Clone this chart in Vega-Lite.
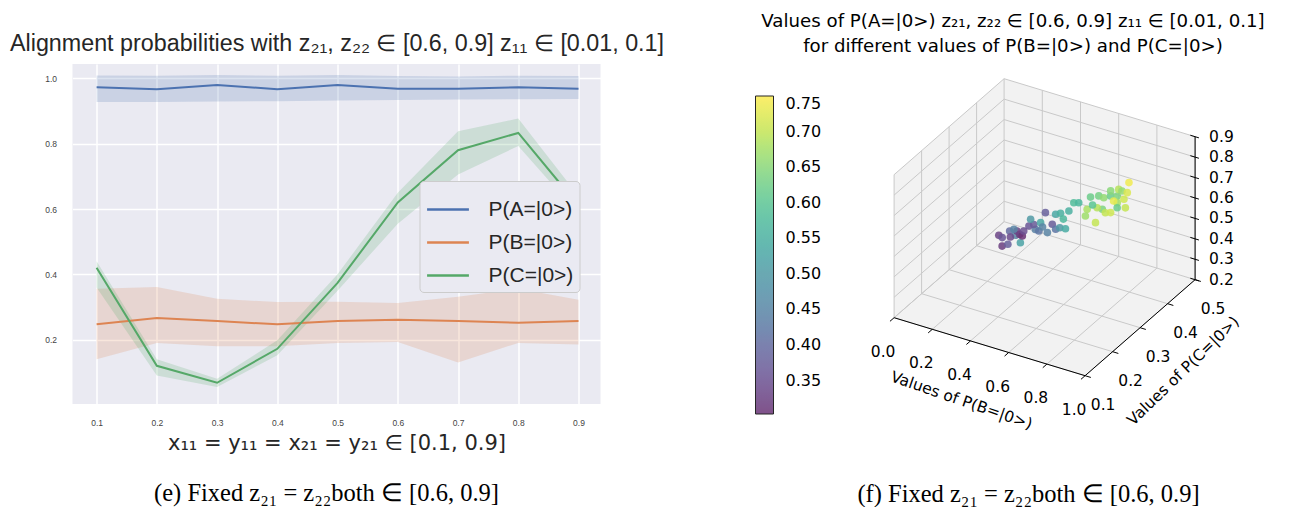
{
  "$schema": "https://vega.github.io/schema/vega-lite/v6.json",
  "background": "white",
  "padding": {"left": 8.5, "top": 11, "right": 0, "bottom": 0},
  "bounds": "flush",
  "spacing": 260,
  "config": {
    "view": {"stroke": null},
    "font": "Liberation Sans"
  },
  "resolve": {"scale": {"color": "independent", "fill": "independent"}, "legend": {"color": "independent", "fill": "independent"}},
  "datasets": {
    "probs": [
      {"x": 0.1, "s": "P(A=|0>)", "m": 0.973, "lo": 0.928, "hi": 1.009},
      {"x": 0.2, "s": "P(A=|0>)", "m": 0.967, "lo": 0.928, "hi": 1.008},
      {"x": 0.3, "s": "P(A=|0>)", "m": 0.980, "lo": 0.929, "hi": 1.010},
      {"x": 0.4, "s": "P(A=|0>)", "m": 0.967, "lo": 0.930, "hi": 1.008},
      {"x": 0.5, "s": "P(A=|0>)", "m": 0.980, "lo": 0.932, "hi": 1.010},
      {"x": 0.6, "s": "P(A=|0>)", "m": 0.968, "lo": 0.934, "hi": 1.007},
      {"x": 0.7, "s": "P(A=|0>)", "m": 0.968, "lo": 0.935, "hi": 1.006},
      {"x": 0.8, "s": "P(A=|0>)", "m": 0.973, "lo": 0.936, "hi": 1.008},
      {"x": 0.9, "s": "P(A=|0>)", "m": 0.968, "lo": 0.937, "hi": 1.007},
      {"x": 0.1, "s": "P(B=|0>)", "m": 0.247, "lo": 0.140, "hi": 0.356},
      {"x": 0.2, "s": "P(B=|0>)", "m": 0.266, "lo": 0.190, "hi": 0.361},
      {"x": 0.3, "s": "P(B=|0>)", "m": 0.257, "lo": 0.180, "hi": 0.325},
      {"x": 0.4, "s": "P(B=|0>)", "m": 0.247, "lo": 0.180, "hi": 0.315},
      {"x": 0.5, "s": "P(B=|0>)", "m": 0.257, "lo": 0.190, "hi": 0.316},
      {"x": 0.6, "s": "P(B=|0>)", "m": 0.261, "lo": 0.193, "hi": 0.312},
      {"x": 0.7, "s": "P(B=|0>)", "m": 0.257, "lo": 0.130, "hi": 0.331},
      {"x": 0.8, "s": "P(B=|0>)", "m": 0.252, "lo": 0.190, "hi": 0.356},
      {"x": 0.9, "s": "P(B=|0>)", "m": 0.257, "lo": 0.185, "hi": 0.322},
      {"x": 0.1, "s": "P(C=|0>)", "m": 0.420, "lo": 0.360, "hi": 0.440},
      {"x": 0.2, "s": "P(C=|0>)", "m": 0.120, "lo": 0.090, "hi": 0.140},
      {"x": 0.3, "s": "P(C=|0>)", "m": 0.068, "lo": 0.055, "hi": 0.080},
      {"x": 0.4, "s": "P(C=|0>)", "m": 0.172, "lo": 0.152, "hi": 0.198},
      {"x": 0.5, "s": "P(C=|0>)", "m": 0.374, "lo": 0.350, "hi": 0.400},
      {"x": 0.6, "s": "P(C=|0>)", "m": 0.620, "lo": 0.555, "hi": 0.650},
      {"x": 0.7, "s": "P(C=|0>)", "m": 0.780, "lo": 0.706, "hi": 0.838},
      {"x": 0.8, "s": "P(C=|0>)", "m": 0.833, "lo": 0.793, "hi": 0.877},
      {"x": 0.9, "s": "P(C=|0>)", "m": 0.610, "lo": 0.585, "hi": 0.640}
    ],
    "panes": [
      {"pane": "left", "ord": 1, "b": 0, "c": 0.1, "z": 0.2},
      {"pane": "left", "ord": 2, "b": 0, "c": 0.5, "z": 0.2},
      {"pane": "left", "ord": 3, "b": 0, "c": 0.5, "z": 0.9},
      {"pane": "left", "ord": 4, "b": 0, "c": 0.1, "z": 0.9},
      {"pane": "back", "ord": 1, "b": 0, "c": 0.5, "z": 0.2},
      {"pane": "back", "ord": 2, "b": 1, "c": 0.5, "z": 0.2},
      {"pane": "back", "ord": 3, "b": 1, "c": 0.5, "z": 0.9},
      {"pane": "back", "ord": 4, "b": 0, "c": 0.5, "z": 0.9},
      {"pane": "floor", "ord": 1, "b": 0, "c": 0.1, "z": 0.2},
      {"pane": "floor", "ord": 2, "b": 1, "c": 0.1, "z": 0.2},
      {"pane": "floor", "ord": 3, "b": 1, "c": 0.5, "z": 0.2},
      {"pane": "floor", "ord": 4, "b": 0, "c": 0.5, "z": 0.2}
    ],
    "grid": [
      {"b1": 0, "c1": 0.1, "z1": 0.2, "b2": 0, "c2": 0.5, "z2": 0.2},
      {"b1": 0.2, "c1": 0.1, "z1": 0.2, "b2": 0.2, "c2": 0.5, "z2": 0.2},
      {"b1": 0.4, "c1": 0.1, "z1": 0.2, "b2": 0.4, "c2": 0.5, "z2": 0.2},
      {"b1": 0.6, "c1": 0.1, "z1": 0.2, "b2": 0.6, "c2": 0.5, "z2": 0.2},
      {"b1": 0.8, "c1": 0.1, "z1": 0.2, "b2": 0.8, "c2": 0.5, "z2": 0.2},
      {"b1": 1, "c1": 0.1, "z1": 0.2, "b2": 1, "c2": 0.5, "z2": 0.2},
      {"b1": 0, "c1": 0.1, "z1": 0.2, "b2": 1, "c2": 0.1, "z2": 0.2},
      {"b1": 0, "c1": 0.2, "z1": 0.2, "b2": 1, "c2": 0.2, "z2": 0.2},
      {"b1": 0, "c1": 0.3, "z1": 0.2, "b2": 1, "c2": 0.3, "z2": 0.2},
      {"b1": 0, "c1": 0.4, "z1": 0.2, "b2": 1, "c2": 0.4, "z2": 0.2},
      {"b1": 0, "c1": 0.5, "z1": 0.2, "b2": 1, "c2": 0.5, "z2": 0.2},
      {"b1": 0, "c1": 0.1, "z1": 0.2, "b2": 0, "c2": 0.1, "z2": 0.9},
      {"b1": 0, "c1": 0.2, "z1": 0.2, "b2": 0, "c2": 0.2, "z2": 0.9},
      {"b1": 0, "c1": 0.3, "z1": 0.2, "b2": 0, "c2": 0.3, "z2": 0.9},
      {"b1": 0, "c1": 0.4, "z1": 0.2, "b2": 0, "c2": 0.4, "z2": 0.9},
      {"b1": 0, "c1": 0.5, "z1": 0.2, "b2": 0, "c2": 0.5, "z2": 0.9},
      {"b1": 0, "c1": 0.1, "z1": 0.2, "b2": 0, "c2": 0.5, "z2": 0.2},
      {"b1": 0, "c1": 0.1, "z1": 0.3, "b2": 0, "c2": 0.5, "z2": 0.3},
      {"b1": 0, "c1": 0.1, "z1": 0.4, "b2": 0, "c2": 0.5, "z2": 0.4},
      {"b1": 0, "c1": 0.1, "z1": 0.5, "b2": 0, "c2": 0.5, "z2": 0.5},
      {"b1": 0, "c1": 0.1, "z1": 0.6, "b2": 0, "c2": 0.5, "z2": 0.6},
      {"b1": 0, "c1": 0.1, "z1": 0.7, "b2": 0, "c2": 0.5, "z2": 0.7},
      {"b1": 0, "c1": 0.1, "z1": 0.8, "b2": 0, "c2": 0.5, "z2": 0.8},
      {"b1": 0, "c1": 0.1, "z1": 0.9, "b2": 0, "c2": 0.5, "z2": 0.9},
      {"b1": 0.2, "c1": 0.5, "z1": 0.2, "b2": 0.2, "c2": 0.5, "z2": 0.9},
      {"b1": 0.4, "c1": 0.5, "z1": 0.2, "b2": 0.4, "c2": 0.5, "z2": 0.9},
      {"b1": 0.6, "c1": 0.5, "z1": 0.2, "b2": 0.6, "c2": 0.5, "z2": 0.9},
      {"b1": 0.8, "c1": 0.5, "z1": 0.2, "b2": 0.8, "c2": 0.5, "z2": 0.9},
      {"b1": 1, "c1": 0.5, "z1": 0.2, "b2": 1, "c2": 0.5, "z2": 0.9},
      {"b1": 0, "c1": 0.5, "z1": 0.3, "b2": 1, "c2": 0.5, "z2": 0.3},
      {"b1": 0, "c1": 0.5, "z1": 0.4, "b2": 1, "c2": 0.5, "z2": 0.4},
      {"b1": 0, "c1": 0.5, "z1": 0.5, "b2": 1, "c2": 0.5, "z2": 0.5},
      {"b1": 0, "c1": 0.5, "z1": 0.6, "b2": 1, "c2": 0.5, "z2": 0.6},
      {"b1": 0, "c1": 0.5, "z1": 0.7, "b2": 1, "c2": 0.5, "z2": 0.7},
      {"b1": 0, "c1": 0.5, "z1": 0.8, "b2": 1, "c2": 0.5, "z2": 0.8},
      {"b1": 0, "c1": 0.5, "z1": 0.9, "b2": 1, "c2": 0.5, "z2": 0.9}
    ],
    "axes3d": [
      {"b1": 0, "c1": 0.1, "z1": 0.2, "b2": 1, "c2": 0.1, "z2": 0.2},
      {"b1": 1, "c1": 0.1, "z1": 0.2, "b2": 1, "c2": 0.5, "z2": 0.2},
      {"b1": 1, "c1": 0.5, "z1": 0.2, "b2": 1, "c2": 0.5, "z2": 0.9},
      {"b1": 0, "c1": 0.1, "z1": 0.2, "b2": 0, "c2": 0.085, "z2": 0.2},
      {"b1": 0.2, "c1": 0.1, "z1": 0.2, "b2": 0.2, "c2": 0.085, "z2": 0.2},
      {"b1": 0.4, "c1": 0.1, "z1": 0.2, "b2": 0.4, "c2": 0.085, "z2": 0.2},
      {"b1": 0.6, "c1": 0.1, "z1": 0.2, "b2": 0.6, "c2": 0.085, "z2": 0.2},
      {"b1": 0.8, "c1": 0.1, "z1": 0.2, "b2": 0.8, "c2": 0.085, "z2": 0.2},
      {"b1": 1, "c1": 0.1, "z1": 0.2, "b2": 1, "c2": 0.085, "z2": 0.2},
      {"b1": 1, "c1": 0.1, "z1": 0.2, "b2": 1.03, "c2": 0.1, "z2": 0.2},
      {"b1": 1, "c1": 0.2, "z1": 0.2, "b2": 1.03, "c2": 0.2, "z2": 0.2},
      {"b1": 1, "c1": 0.3, "z1": 0.2, "b2": 1.03, "c2": 0.3, "z2": 0.2},
      {"b1": 1, "c1": 0.4, "z1": 0.2, "b2": 1.03, "c2": 0.4, "z2": 0.2},
      {"b1": 1, "c1": 0.5, "z1": 0.2, "b2": 1.03, "c2": 0.5, "z2": 0.2},
      {"b1": 0.975, "c1": 0.5, "z1": 0.2, "b2": 1.02, "c2": 0.5, "z2": 0.2},
      {"b1": 0.975, "c1": 0.5, "z1": 0.3, "b2": 1.02, "c2": 0.5, "z2": 0.3},
      {"b1": 0.975, "c1": 0.5, "z1": 0.4, "b2": 1.02, "c2": 0.5, "z2": 0.4},
      {"b1": 0.975, "c1": 0.5, "z1": 0.5, "b2": 1.02, "c2": 0.5, "z2": 0.5},
      {"b1": 0.975, "c1": 0.5, "z1": 0.6, "b2": 1.02, "c2": 0.5, "z2": 0.6},
      {"b1": 0.975, "c1": 0.5, "z1": 0.7, "b2": 1.02, "c2": 0.5, "z2": 0.7},
      {"b1": 0.975, "c1": 0.5, "z1": 0.8, "b2": 1.02, "c2": 0.5, "z2": 0.8},
      {"b1": 0.975, "c1": 0.5, "z1": 0.9, "b2": 1.02, "c2": 0.5, "z2": 0.9}
    ],
    "ticklabels": [
      {"axis": "B", "b": 0, "c": 0.1, "z": 0.2, "label": "0.0"},
      {"axis": "B", "b": 0.2, "c": 0.1, "z": 0.2, "label": "0.2"},
      {"axis": "B", "b": 0.4, "c": 0.1, "z": 0.2, "label": "0.4"},
      {"axis": "B", "b": 0.6, "c": 0.1, "z": 0.2, "label": "0.6"},
      {"axis": "B", "b": 0.8, "c": 0.1, "z": 0.2, "label": "0.8"},
      {"axis": "B", "b": 1, "c": 0.1, "z": 0.2, "label": "1.0"},
      {"axis": "C", "b": 1, "c": 0.1, "z": 0.2, "label": "0.1"},
      {"axis": "C", "b": 1, "c": 0.2, "z": 0.2, "label": "0.2"},
      {"axis": "C", "b": 1, "c": 0.3, "z": 0.2, "label": "0.3"},
      {"axis": "C", "b": 1, "c": 0.4, "z": 0.2, "label": "0.4"},
      {"axis": "C", "b": 1, "c": 0.5, "z": 0.2, "label": "0.5"},
      {"axis": "Z", "b": 1, "c": 0.5, "z": 0.2, "label": "0.2"},
      {"axis": "Z", "b": 1, "c": 0.5, "z": 0.3, "label": "0.3"},
      {"axis": "Z", "b": 1, "c": 0.5, "z": 0.4, "label": "0.4"},
      {"axis": "Z", "b": 1, "c": 0.5, "z": 0.5, "label": "0.5"},
      {"axis": "Z", "b": 1, "c": 0.5, "z": 0.6, "label": "0.6"},
      {"axis": "Z", "b": 1, "c": 0.5, "z": 0.7, "label": "0.7"},
      {"axis": "Z", "b": 1, "c": 0.5, "z": 0.8, "label": "0.8"},
      {"axis": "Z", "b": 1, "c": 0.5, "z": 0.9, "label": "0.9"}
    ],
    "points": [
      {"b": 0.210, "c": 0.347, "a": 0.32},
      {"b": 0.279, "c": 0.320, "a": 0.38},
      {"b": 0.448, "c": 0.248, "a": 0.52},
      {"b": 0.158, "c": 0.371, "a": 0.33},
      {"b": 0.209, "c": 0.348, "a": 0.36},
      {"b": 0.245, "c": 0.350, "a": 0.40},
      {"b": 0.332, "c": 0.311, "a": 0.45},
      {"b": 0.217, "c": 0.406, "a": 0.31},
      {"b": 0.210, "c": 0.401, "a": 0.33},
      {"b": 0.225, "c": 0.410, "a": 0.30},
      {"b": 0.299, "c": 0.328, "a": 0.45},
      {"b": 0.254, "c": 0.395, "a": 0.35},
      {"b": 0.261, "c": 0.409, "a": 0.36},
      {"b": 0.374, "c": 0.354, "a": 0.44},
      {"b": 0.282, "c": 0.412, "a": 0.37},
      {"b": 0.365, "c": 0.343, "a": 0.50},
      {"b": 0.376, "c": 0.365, "a": 0.42},
      {"b": 0.446, "c": 0.323, "a": 0.53},
      {"b": 0.444, "c": 0.349, "a": 0.45},
      {"b": 0.353, "c": 0.430, "a": 0.37},
      {"b": 0.434, "c": 0.386, "a": 0.42},
      {"b": 0.516, "c": 0.344, "a": 0.50},
      {"b": 0.579, "c": 0.321, "a": 0.54},
      {"b": 0.284, "c": 0.453, "a": 0.38},
      {"b": 0.467, "c": 0.363, "a": 0.53},
      {"b": 0.500, "c": 0.358, "a": 0.55},
      {"b": 0.522, "c": 0.373, "a": 0.55},
      {"b": 0.532, "c": 0.384, "a": 0.58},
      {"b": 0.542, "c": 0.395, "a": 0.57},
      {"b": 0.704, "c": 0.313, "a": 0.68},
      {"b": 0.718, "c": 0.297, "a": 0.67},
      {"b": 0.814, "c": 0.267, "a": 0.70},
      {"b": 0.644, "c": 0.397, "a": 0.63},
      {"b": 0.726, "c": 0.353, "a": 0.64},
      {"b": 0.745, "c": 0.321, "a": 0.69},
      {"b": 0.808, "c": 0.307, "a": 0.70},
      {"b": 0.837, "c": 0.306, "a": 0.71},
      {"b": 0.699, "c": 0.377, "a": 0.66},
      {"b": 0.681, "c": 0.414, "a": 0.62},
      {"b": 0.725, "c": 0.408, "a": 0.64},
      {"b": 0.791, "c": 0.362, "a": 0.68},
      {"b": 0.829, "c": 0.360, "a": 0.71},
      {"b": 0.864, "c": 0.341, "a": 0.70},
      {"b": 0.759, "c": 0.384, "a": 0.62},
      {"b": 0.802, "c": 0.397, "a": 0.74},
      {"b": 0.747, "c": 0.398, "a": 0.69},
      {"b": 0.686, "c": 0.411, "a": 0.65},
      {"b": 0.740, "c": 0.415, "a": 0.66},
      {"b": 0.822, "c": 0.377, "a": 0.72},
      {"b": 0.220, "c": 0.370, "a": 0.34},
      {"b": 0.400, "c": 0.362, "a": 0.45},
      {"b": 0.633, "c": 0.382, "a": 0.60},
      {"b": 0.815, "c": 0.332, "a": 0.73},
      {"b": 0.555, "c": 0.330, "a": 0.57},
      {"b": 0.608, "c": 0.392, "a": 0.62}
    ],
    "axtitles": [
      {"axis": "B", "b": 0.5, "c": 0.1, "z": 0.2, "label": "Values of P(B=|0>)"},
      {"axis": "C", "b": 1, "c": 0.3, "z": 0.2, "label": "Values of P(C=|0>)"}
    ]
  },
  "hconcat": [
    {
      "title": {"text": "(e) Fixed z₂₁ = z₂₂both ∈ [0.6, 0.9]", "orient": "bottom", "anchor": "middle", "font": "Liberation Serif", "fontSize": 24.5, "fontWeight": "normal", "color": "black", "offset": 28, "dx": -10},
      "width": 528,
      "height": 340,
      "view": {"fill": "#EAEAF2", "stroke": null},
      "data": {"name": "probs"},
      "resolve": {"axis": {"x": "independent"}},
      "layer": [
        {
          "mark": {"type": "area", "opacity": 0.2},
          "encoding": {
            "x": {"field": "x", "type": "quantitative", "scale": {"domain": [0.06, 0.9365], "nice": false, "zero": false},
              "axis": {"orient": "bottom", "values": [0.1, 0.2, 0.3, 0.4, 0.5, 0.6, 0.7, 0.8, 0.9], "format": ".1f", "labelFontSize": 8.5, "labelColor": "#444444", "labelFont": "Liberation Sans", "grid": true, "gridColor": "white", "gridWidth": 1.5, "domain": false, "ticks": false, "labelPadding": 14,
                "title": "x₁₁ = y₁₁ = x₂₁ = y₂₁ ∈ [0.1, 0.9]", "titleFont": "DejaVu Sans", "titleFontSize": 21, "titleFontWeight": "normal", "titleColor": "#262626", "titlePadding": 6}},
            "y": {"field": "lo", "type": "quantitative", "scale": {"domain": [0.003, 1.044], "nice": false, "zero": false},
              "axis": {"values": [0.2, 0.4, 0.6, 0.8, 1.0], "format": ".1f", "labelFontSize": 8.5, "labelColor": "#444444", "labelFont": "Liberation Sans", "grid": true, "gridColor": "white", "gridWidth": 1.5, "domain": false, "ticks": false, "labelPadding": 16, "title": null}},
            "y2": {"field": "hi"},
            "fill": {"field": "s", "type": "nominal", "scale": {"domain": ["P(A=|0>)", "P(B=|0>)", "P(C=|0>)"], "range": ["#4C72B0", "#DD8452", "#55A868"]}, "legend": null},
            "detail": {"field": "s"}
          }
        },
        {
          "mark": {"type": "line", "strokeWidth": 2},
          "encoding": {
            "x": {"field": "x", "type": "quantitative",
              "axis": {"orient": "top", "labels": false, "ticks": false, "domain": false, "grid": false,
                "title": "Alignment probabilities with z₂₁, z₂₂ ∈ [0.6, 0.9] z₁₁ ∈ [0.01, 0.1]", "titleFont": "Liberation Sans", "titleFontSize": 23.3, "titleFontWeight": "normal", "titleColor": "#262626", "titlePadding": 9}},
            "y": {"field": "m", "type": "quantitative"},
            "stroke": {"field": "s", "type": "nominal", "scale": {"domain": ["P(A=|0>)", "P(B=|0>)", "P(C=|0>)"], "range": ["#4C72B0", "#DD8452", "#55A868"]},
              "legend": {"orient": "none", "legendX": 347, "legendY": 117, "title": null, "symbolType": "stroke", "symbolSize": 1750, "symbolStrokeWidth": 2.5, "labelFontSize": 21, "labelFont": "Liberation Sans", "labelColor": "#262626", "fillColor": "#EAEAF2", "strokeColor": "#cccccc", "cornerRadius": 4, "padding": 6, "rowPadding": -21, "labelOffset": 18}}
          }
        }
      ]
    },
    {
      "title": {"text": "(f) Fixed z₂₁ = z₂₂both ∈ [0.6, 0.9]", "orient": "bottom", "anchor": "middle", "font": "Liberation Serif", "fontSize": 24.5, "fontWeight": "normal", "color": "black", "offset": 42, "dx": -27},
      "width": 390,
      "height": 377,
      "resolve": {"axis": {"x": "independent"}},
      "layer": [
        {
          "data": {"name": "panes"},
          "transform": [
            {"calculate": "191*datum.b + 275*datum.c", "as": "u"},
            {"calculate": "204.3*datum.z + 240*datum.c - 58*datum.b", "as": "v"}
          ],
          "mark": {"type": "line", "fill": "#f2f2f2", "strokeOpacity": 0, "strokeWidth": 0},
          "encoding": {
            "x": {"field": "u", "type": "quantitative", "scale": {"domain": [-6.1, 383.9], "nice": false, "zero": false},
              "axis": {"orient": "top", "labels": false, "ticks": false, "domain": false, "grid": false,
                "title": ["Values of P(A=|0>) z₂₁, z₂₂ ∈ [0.6, 0.9] z₁₁ ∈ [0.01, 0.1]", "for different values of P(B=|0>) and P(C=|0>)"],
                "titleFont": "DejaVu Sans", "titleFontSize": 18.2, "titleFontWeight": "normal", "titleColor": "black", "titleLineHeight": 25, "titlePadding": 9, "titleX": 152}},
            "y": {"field": "v", "type": "quantitative", "scale": {"domain": [-58.44, 318.56], "nice": false, "zero": false}, "axis": null},
            "detail": {"field": "pane"},
            "order": {"field": "ord", "type": "quantitative"}
          }
        },
        {
          "data": {"name": "grid"},
          "transform": [
            {"calculate": "191*datum.b1 + 275*datum.c1", "as": "u1"},
            {"calculate": "204.3*datum.z1 + 240*datum.c1 - 58*datum.b1", "as": "v1"},
            {"calculate": "191*datum.b2 + 275*datum.c2", "as": "u2"},
            {"calculate": "204.3*datum.z2 + 240*datum.c2 - 58*datum.b2", "as": "v2"}
          ],
          "mark": {"type": "rule", "color": "#c9c9c9", "strokeWidth": 1},
          "encoding": {
            "x": {"field": "u1", "type": "quantitative", "axis": null},
            "y": {"field": "v1", "type": "quantitative", "axis": null},
            "x2": {"field": "u2"},
            "y2": {"field": "v2"}
          }
        },
        {
          "data": {"name": "axes3d"},
          "transform": [
            {"calculate": "191*datum.b1 + 275*datum.c1", "as": "u1"},
            {"calculate": "204.3*datum.z1 + 240*datum.c1 - 58*datum.b1", "as": "v1"},
            {"calculate": "191*datum.b2 + 275*datum.c2", "as": "u2"},
            {"calculate": "204.3*datum.z2 + 240*datum.c2 - 58*datum.b2", "as": "v2"}
          ],
          "mark": {"type": "rule", "color": "black", "strokeWidth": 1},
          "encoding": {
            "x": {"field": "u1", "type": "quantitative", "axis": null},
            "y": {"field": "v1", "type": "quantitative", "axis": null},
            "x2": {"field": "u2"},
            "y2": {"field": "v2"}
          }
        },
        {
          "data": {"name": "ticklabels"},
          "transform": [
            {"filter": "datum.axis == 'B'"},
            {"calculate": "191*datum.b + 275*datum.c", "as": "u"},
            {"calculate": "204.3*datum.z + 240*datum.c - 58*datum.b", "as": "v"}
          ],
          "mark": {"type": "text", "font": "DejaVu Sans", "fontSize": 15.5, "color": "black", "align": "center", "baseline": "middle", "dx": -11, "dy": 34},
          "encoding": {
            "x": {"field": "u", "type": "quantitative", "axis": null},
            "y": {"field": "v", "type": "quantitative", "axis": null},
            "text": {"field": "label"}
          }
        },
        {
          "data": {"name": "ticklabels"},
          "transform": [
            {"filter": "datum.axis == 'C'"},
            {"calculate": "191*datum.b + 275*datum.c", "as": "u"},
            {"calculate": "204.3*datum.z + 240*datum.c - 58*datum.b", "as": "v"}
          ],
          "mark": {"type": "text", "font": "DejaVu Sans", "fontSize": 15.5, "color": "black", "align": "center", "baseline": "middle", "dx": 18, "dy": 29},
          "encoding": {
            "x": {"field": "u", "type": "quantitative", "axis": null},
            "y": {"field": "v", "type": "quantitative", "axis": null},
            "text": {"field": "label"}
          }
        },
        {
          "data": {"name": "ticklabels"},
          "transform": [
            {"filter": "datum.axis == 'Z'"},
            {"calculate": "191*datum.b + 275*datum.c", "as": "u"},
            {"calculate": "204.3*datum.z + 240*datum.c - 58*datum.b", "as": "v"}
          ],
          "mark": {"type": "text", "font": "DejaVu Sans", "fontSize": 15.5, "color": "black", "align": "left", "baseline": "middle", "dx": 14, "dy": 0},
          "encoding": {
            "x": {"field": "u", "type": "quantitative", "axis": null},
            "y": {"field": "v", "type": "quantitative", "axis": null},
            "text": {"field": "label"}
          }
        },
        {
          "data": {"name": "axtitles"},
          "transform": [
            {"filter": "datum.axis == 'B'"},
            {"calculate": "191*datum.b + 275*datum.c", "as": "u"},
            {"calculate": "204.3*datum.z + 240*datum.c - 58*datum.b", "as": "v"}
          ],
          "mark": {"type": "text", "font": "DejaVu Sans", "fontSize": 15.5, "color": "black", "align": "center", "baseline": "middle", "angle": 19, "dx": -9, "dy": 60},
          "encoding": {
            "x": {"field": "u", "type": "quantitative", "axis": null},
            "y": {"field": "v", "type": "quantitative", "axis": null},
            "text": {"field": "label"}
          }
        },
        {
          "data": {"name": "axtitles"},
          "transform": [
            {"filter": "datum.axis == 'C'"},
            {"calculate": "191*datum.b + 275*datum.c", "as": "u"},
            {"calculate": "204.3*datum.z + 240*datum.c - 58*datum.b", "as": "v"}
          ],
          "mark": {"type": "text", "font": "DejaVu Sans", "fontSize": 15.5, "color": "black", "align": "center", "baseline": "middle", "angle": -44, "dx": 1, "dy": 61},
          "encoding": {
            "x": {"field": "u", "type": "quantitative", "axis": null},
            "y": {"field": "v", "type": "quantitative", "axis": null},
            "text": {"field": "label"}
          }
        },
        {
          "data": {"name": "points"},
          "transform": [
            {"calculate": "191*datum.b + 275*datum.c", "as": "u"},
            {"calculate": "204.3*datum.a + 240*datum.c - 58*datum.b", "as": "v"}
          ],
          "mark": {"type": "circle", "size": 58, "opacity": 0.85},
          "encoding": {
            "x": {"field": "u", "type": "quantitative", "axis": null},
            "y": {"field": "v", "type": "quantitative", "axis": null},
            "color": {"field": "a", "type": "quantitative",
              "scale": {"domain": [0.303, 0.3527, 0.4023, 0.452, 0.5017, 0.5513, 0.601, 0.6507, 0.7003, 0.75], "range": ["#6a3476", "#6d5393", "#656da1", "#5a86a5", "#519ba5", "#4cb1a1", "#5dc594", "#8bd879", "#c4e555", "#fdec51"]},
              "legend": {"orient": "none", "legendX": -105, "legendY": 32, "direction": "vertical", "gradientLength": 318, "gradientThickness": 18, "title": null, "values": [0.35, 0.4, 0.45, 0.5, 0.55, 0.6, 0.65, 0.7, 0.75], "format": ".2f", "labelFontSize": 16, "labelFont": "DejaVu Sans", "labelColor": "black", "labelOffset": 12, "gradientStrokeColor": "black", "gradientStrokeWidth": 1}}
          }
        }
      ]
    }
  ]
}
